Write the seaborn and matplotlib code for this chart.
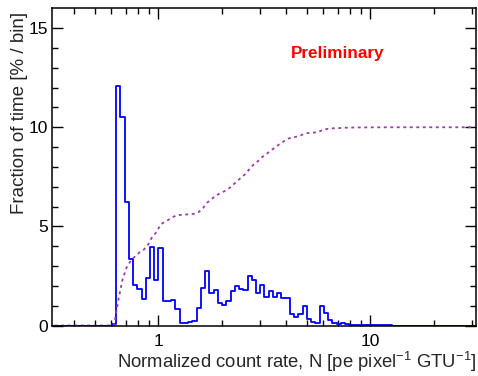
import numpy as np
import matplotlib
matplotlib.use("Agg")
import matplotlib.pyplot as plt
import seaborn as sns

# histogram binning in log10(N): 100 bins of 0.02 dex
log_lo, log_hi, n_bins = -0.5, 1.5, 100

# fraction of time per bin [%], starting at bin 14 (other bins empty)
first_bin = 14
frac = [0.08, 12.1, 10.52, 6.22, 3.36, 2.05, 1.85, 1.36, 2.42, 3.95,
        2.32, 3.91, 1.26, 1.22, 1.29, 0.84, 0.15, 0.15, 0.17, 0.23,
        0.86, 1.91, 2.74, 1.65, 1.80, 1.11, 1.04, 1.26, 1.76, 1.97,
        1.82, 1.80, 2.48, 2.31, 1.65, 2.03, 1.46, 1.72, 1.46, 1.62,
        1.38, 1.38, 0.57, 0.42, 0.60, 0.96, 0.31, 0.17, 0.13, 0.96,
        0.63, 0.29, 0.14, 0.07, 0.14, 0.09, 0.05, 0.03, 0.02, 0.02,
        0.02, 0.01, 0.01, 0.01, 0.01, 0.01]

x_ticks = [1, 10]
x_ticklabels = ["1", "10"]
y_ticks = [0, 5, 10, 15]

log_edges = np.linspace(log_lo, log_hi, n_bins + 1)
centers = 10 ** (0.5 * (log_edges[:-1] + log_edges[1:]))
vals = np.zeros(n_bins)
vals[first_bin:first_bin + len(frac)] = frac
# cumulative fraction, drawn so that 100% sits at 10
cum = np.cumsum(vals) / vals.sum() * 10

sns.set_style("ticks")
plt.rcParams["font.family"] = ["Liberation Sans", "DejaVu Sans"]
plt.rcParams["mathtext.fontset"] = "custom"
plt.rcParams["mathtext.rm"] = "Liberation Sans"
plt.rcParams["mathtext.it"] = "Liberation Sans:italic"

fig = plt.figure(figsize=(4.78, 3.76), dpi=100)
ax = fig.add_axes([0.1098, 0.1343, 0.887, 0.8436])

# seaborn takes the bins in log10 units when log_scale is on
sns.histplot(x=centers, weights=vals, bins=list(log_edges), log_scale=True,
             element="step", fill=False, color="#0000ff", linewidth=1.3, ax=ax)
sns.lineplot(x=centers, y=cum, ax=ax, color="#9a3da8", linewidth=1.3,
             linestyle=(0, (1.6, 2.0)))

ax.set_xlim(10 ** log_lo, 10 ** log_hi)
ax.set_ylim(0, 16)
ax.set_xticks(x_ticks, x_ticklabels)
ax.set_xticks([v * d for d in (0.1, 1, 10) for v in range(2, 10)
               if 10 ** log_lo < v * d < 10 ** log_hi], minor=True)
ax.xaxis.set_minor_formatter(matplotlib.ticker.NullFormatter())
ax.set_yticks(y_ticks)
ax.set_yticks(np.arange(0, 16), minor=True)

ax.tick_params(which="both", direction="in", top=True, right=True,
               colors="black", labelsize=12.5, width=1.0)
ax.tick_params(which="major", length=8)
ax.tick_params(which="minor", length=4.5)
ax.tick_params(axis="x", pad=6)
ax.tick_params(axis="y", pad=3)
for s in ax.spines.values():
    s.set_linewidth(1.1)
    s.set_color("black")

ax.set_xlabel(r"Normalized count rate, N [pe pixel$^{-1}$ GTU$^{-1}$]", fontsize=13.3)
ax.xaxis.set_label_coords(1.0, -0.116)
ax.xaxis.label.set_ha("right")
ax.xaxis.label.set_va("center")
ax.set_ylabel("Fraction of time [% / bin]", fontsize=13.5)
ax.yaxis.set_label_coords(-0.078, 0.99)
ax.yaxis.label.set_rotation_mode("anchor")
ax.yaxis.label.set_ha("right")
ax.yaxis.label.set_va("center")

ax.text(7.03, 13.5, "Preliminary", color="red", fontsize=12.3,
        fontweight="bold", ha="center", va="baseline")

fig.savefig("out.png", dpi=100)
